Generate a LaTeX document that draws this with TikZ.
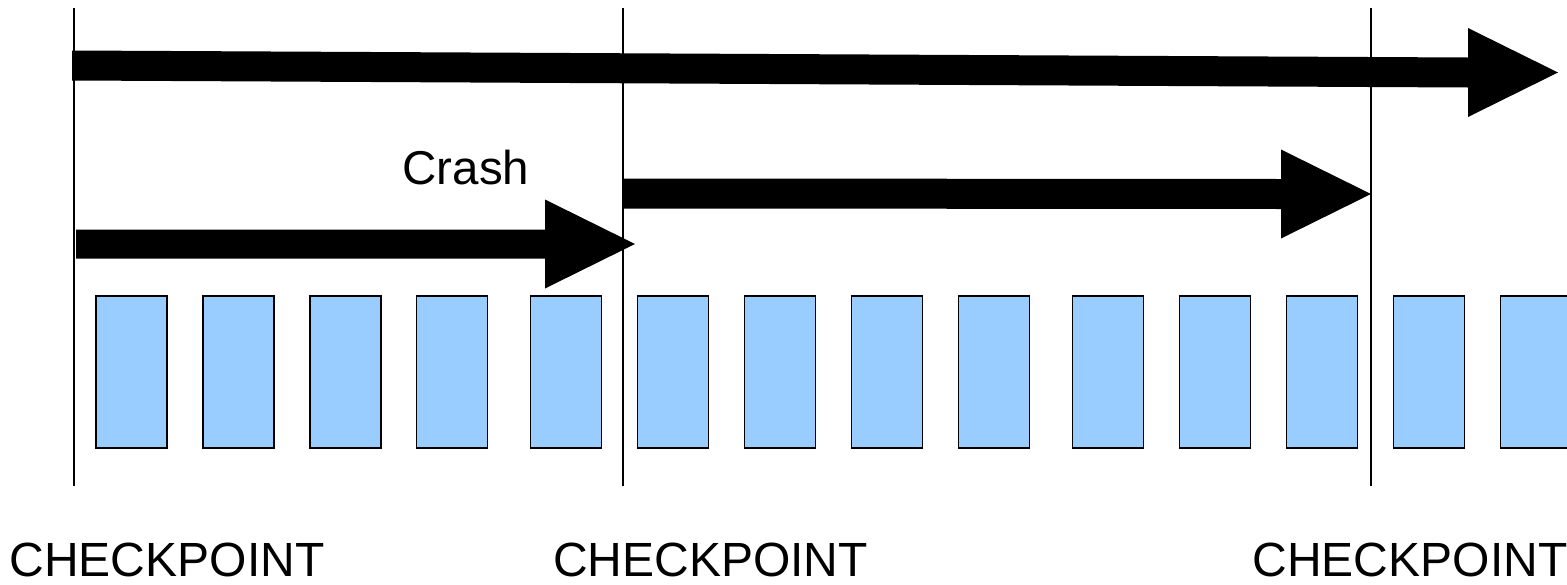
\documentclass[tikz,border=0pt]{standalone}
\usepackage{fontspec}
\setmainfont{Liberation Sans}
\begin{document}
\begin{tikzpicture}[x=1pt,y=-1pt,
  cpline/.style={line width=2pt,black},
  task/.style={draw=black,line width=1.6pt,fill={rgb,255:red,153;green,204;blue,255},minimum width=71pt,minimum height=152pt,inner sep=0pt,outer sep=0pt},
  fat/.style={fill=black,draw=none},
  cplabel/.style={anchor=base,inner sep=0pt,font=\fontsize{48}{57}\selectfont},
  crashlabel/.style={anchor=base,inner sep=0pt,font=\fontsize{47.5}{56}\selectfont}]
\useasboundingbox (0,0) rectangle (1567,584);
% checkpoint lines
\foreach \n/\x in {1/74,2/623,3/1371}{
  \coordinate (t\n) at (\x,8);
  \coordinate (b\n) at (\x,486);
  \draw[cpline] (t\n) -- (b\n);
}
% tasks
\foreach \i/\x in {1/131.5,2/238.5,3/345.5,4/452,5/566,6/673,7/780,8/887,9/994,10/1108,11/1215,12/1322,13/1429,14/1536}{
  \node[task] (task\i) at (\x,372) {};
}
% long arrow
\fill[fat] (72,50.5) -- (1468,57.5) -- (1468,28) -- (1558,72.5) -- (1468,117) -- (1468,87.5) -- (72,80.5) -- cycle;
% crash arrow
\fill[fat] (76,229.5) -- (545,229.5) -- (545,199.5) -- (635,244) -- (545,288.5) -- (545,258.5) -- (76,258.5) -- cycle;
% restart arrow
\fill[fat] (623,178.5) -- (1281,179) -- (1281,149.5) -- (1371,194) -- (1281,238.5) -- (1281,209) -- (623,208.5) -- cycle;
% labels
\node[crashlabel] (crash) at (466,184) {Crash};
\node[cplabel] (cp1) at (167,576) {CHECKPOINT};
\node[cplabel] (cp2) at (710.5,576) {CHECKPOINT};
\node[cplabel] (cp3) at (1410,576) {CHECKPOINT};
\end{tikzpicture}
\end{document}
